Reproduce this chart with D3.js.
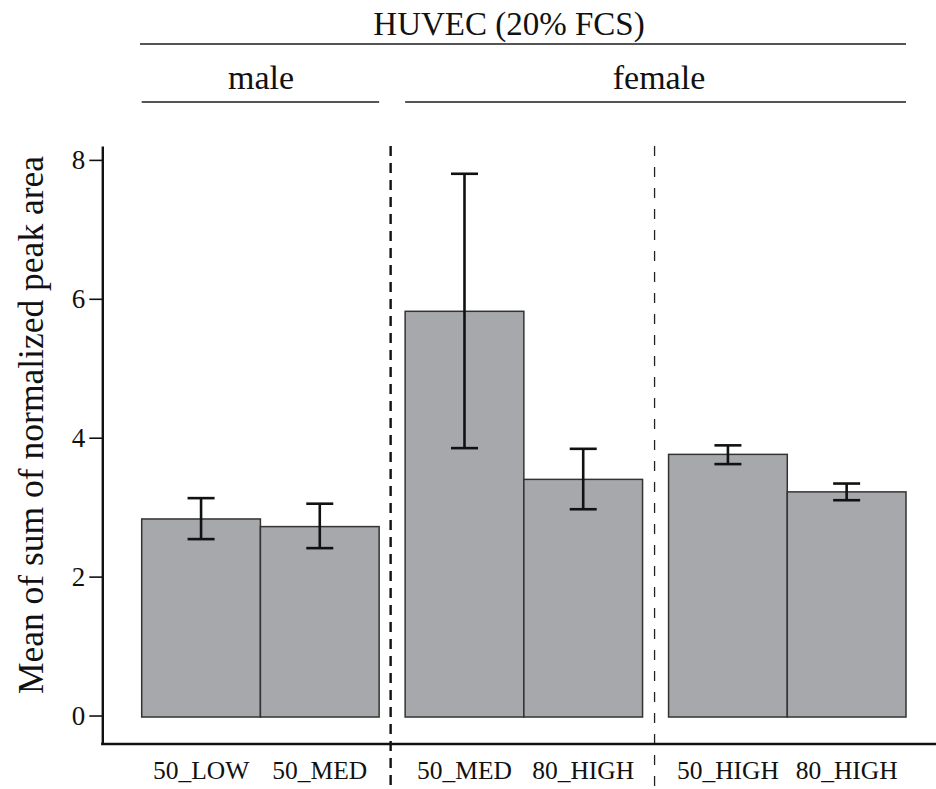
<!DOCTYPE html>
<html><head><meta charset="utf-8">
<script src="https://cdn.jsdelivr.net/npm/d3@7"></script>
<style>body{margin:0;background:#fff}svg{display:block}</style>
</head><body>
<svg id="c" width="936" height="789"></svg>
<script>
const groups = ["male_50", "female_50", "female_80"];
const categories = ["50_LOW", "50_MED", "50_MED", "80_HIGH", "50_HIGH", "80_HIGH"];
const groupOf = ["male_50", "male_50", "female_50", "female_50", "female_80", "female_80"];
const means = [2.83, 2.72, 5.82, 3.40, 3.76, 3.22];
const errLow = [2.54, 2.41, 3.85, 2.97, 3.62, 3.10];
const errHigh = [3.13, 3.05, 7.80, 3.84, 3.89, 3.34];
const yTicks = [0, 2, 4, 6, 8];
const title = "HUVEC (20% FCS)";
const sexLabels = [{label: "male", from: "male_50", to: "male_50", cx: 261}, {label: "female", from: "female_50", to: "female_80", cx: 659}];
const yTitle = "Mean of sum of normalized peak area";

const FONT = '"Liberation Serif"';
const svg = d3.select("#c");
const y = d3.scaleLinear().domain([-0.41, 8.2]).range([744, 146]);
const xg = d3.scaleBand().domain(groups).range([141.7, 906]).paddingInner(0.0987).paddingOuter(0);
const xi = d3.scaleBand().domain([0, 1]).range([0, xg.bandwidth()]).padding(0);
const bx = i => xg(groupOf[i]) + xi(i % 2);

// bars
svg.append("g").selectAll("rect").data(means).join("rect")
  .attr("x", (d, i) => bx(i)).attr("width", xi.bandwidth())
  .attr("y", d => y(d)).attr("height", d => y(0) - y(d) + 1.5)
  .attr("fill", "#a7a8ac").attr("stroke", "#333").attr("stroke-width", 1.5);

// error bars
const eb = svg.append("g").attr("stroke", "#111").attr("stroke-width", 2.6);
means.forEach((m, i) => {
  const cx = bx(i) + xi.bandwidth() / 2;
  eb.append("line").attr("x1", cx).attr("x2", cx).attr("y1", y(errLow[i])).attr("y2", y(errHigh[i]));
  [errLow[i], errHigh[i]].forEach(v => eb.append("line").attr("x1", cx - 13.5).attr("x2", cx + 13.5).attr("y1", y(v)).attr("y2", y(v)));
});

// separators
const sep1 = (xg(groups[0]) + xg.bandwidth() + xg(groups[1])) / 2 - 1.5;
const sep2 = (xg(groups[1]) + xg.bandwidth() + xg(groups[2])) / 2 - 1;
svg.append("line").attr("x1", sep1).attr("x2", sep1).attr("y1", 146).attr("y2", 789)
  .attr("stroke", "#111").attr("stroke-width", 2.4).attr("stroke-dasharray", "10,7");
svg.append("line").attr("x1", sep2).attr("x2", sep2).attr("y1", 146).attr("y2", 789)
  .attr("stroke", "#222").attr("stroke-width", 1.3).attr("stroke-dasharray", "10,11");

// y axis
const ya = svg.append("g").attr("transform", "translate(102.3,0)")
  .call(d3.axisLeft(y).tickValues(yTicks).tickSize(13).tickSizeOuter(0).tickPadding(4));
ya.attr("font-family", null).attr("font-size", null);
ya.select(".domain").attr("stroke", "#111").attr("stroke-width", 2.4);
ya.selectAll(".tick line").attr("stroke", "#111").attr("stroke-width", 1.6);
ya.selectAll(".tick text").attr("fill", "#111").style("font-family", FONT).style("font-size", "27px");

// x axis line
svg.append("line").attr("x1", 101.1).attr("x2", 936).attr("y1", 744).attr("y2", 744).attr("stroke", "#111").attr("stroke-width", 2.4);

// x labels
svg.append("g").selectAll("text").data(categories).join("text")
  .attr("x", (d, i) => bx(i) + xi.bandwidth() / 2).attr("y", 779)
  .attr("text-anchor", "middle").attr("fill", "#111")
  .style("font-family", FONT).style("font-size", "25.5px").text(d => d);

// y title
svg.append("text").attr("transform", "translate(43,425) rotate(-90)")
  .attr("text-anchor", "middle").attr("fill", "#111")
  .style("font-family", FONT).style("font-size", "35.5px").text(yTitle);

// headers
svg.append("line").attr("x1", 140).attr("x2", 906).attr("y1", 44).attr("y2", 44).attr("stroke", "#555").attr("stroke-width", 2.2);
svg.append("text").attr("x", 509).attr("y", 35).attr("text-anchor", "middle").attr("fill", "#111")
  .style("font-family", FONT).style("font-size", "33px").text(title);
sexLabels.forEach(s => {
  const x1 = xg(s.from), x2 = xg(s.to) + xg.bandwidth();
  svg.append("line").attr("x1", x1).attr("x2", x2).attr("y1", 102).attr("y2", 102).attr("stroke", "#555").attr("stroke-width", 2.2);
  svg.append("text").attr("x", s.cx).attr("y", 89).attr("text-anchor", "middle").attr("fill", "#111")
    .style("font-family", FONT).style("font-size", "34px").text(s.label);
});
</script>
</body></html>
